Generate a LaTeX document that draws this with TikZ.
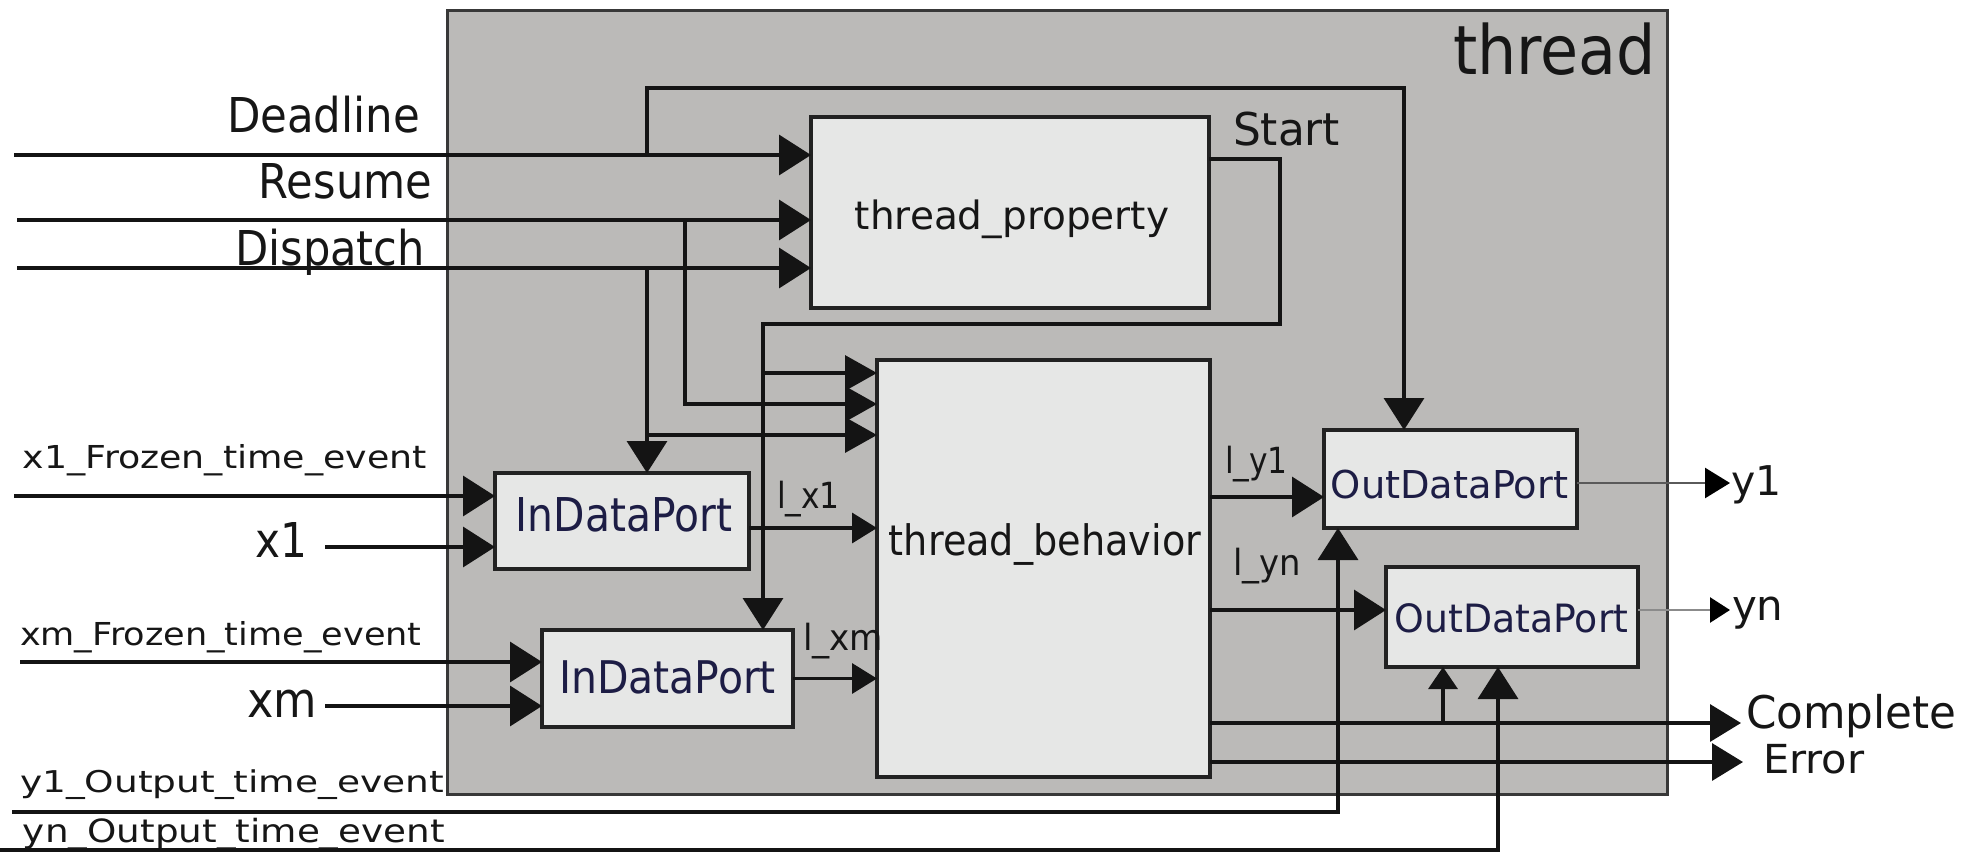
\documentclass[tikz,border=0pt]{standalone}
\usepackage{fontspec}
\setmainfont{DejaVu Sans}
\usetikzlibrary{arrows.meta}

\definecolor{threadfill}{HTML}{BBBAB8}
\definecolor{boxfill}{HTML}{E6E7E6}
\definecolor{boxline}{HTML}{222222}
\definecolor{linec}{HTML}{141414}
\definecolor{txtc}{HTML}{161616}
\definecolor{porttxt}{HTML}{1D1D45}
\definecolor{outgray}{HTML}{5A5A5A}

% horizontal squeeze/stretch of a label
\newcommand{\wtext}[2]{\scalebox{#1}[1]{#2}}

\tikzset{
  conn/.style={draw=linec, line width=1.7pt},
  bigtip/.style={-{Triangle[length=16pt,width=20pt]}},
  midtip/.style={-{Triangle[length=16pt,width=17.5pt]}},
  smalltip/.style={-{Triangle[length=12.5pt,width=15pt]}},
  tinytip/.style={-{Triangle[length=11pt,width=14.5pt]}},
  sigtip/.style={-{Triangle[length=15.5pt,width=18.5pt]}},
  outline/.style={draw=outgray, line width=1.3pt},
  box/.style={draw=boxline, fill=boxfill, line width=2pt, inner sep=0pt, outer sep=0pt},
  outer/.style={draw=boxline!90, fill=threadfill, line width=1.5pt, inner sep=0pt, outer sep=0pt},
  lbl/.style={inner sep=0pt, outer sep=0pt, text=txtc},
  plbl/.style={inner sep=0pt, outer sep=0pt, text=porttxt},
  fsz/.style={font=\fontsize{#1}{#1}\selectfont}
}

\begin{document}
\begin{tikzpicture}[x=0.5pt,y=-0.5pt]
\useasboundingbox (0,0) rectangle (1977,853);

% enclosing thread block
\node[outer, minimum width=610pt, minimum height=392pt] (thread) at (1057,402) {};
\node[lbl, fsz=34pt, anchor=base east] (threadlbl) at (1656,74) {\wtext{0.91}{thread}};

% centres of the inner blocks
\path
  (1010,212.5) coordinate (tpropc)
  (1043.5,568.5) coordinate (tbehc)
  (622,521) coordinate (in1c)
  (667.5,678.5) coordinate (inmc)
  (1450.5,479) coordinate (out1c)
  (1512,617) coordinate (outnc);

\node[box, minimum width=199pt, minimum height=95.5pt] (tprop) at (tpropc) {};
\node[box, minimum width=166.5pt, minimum height=208.5pt] (tbeh) at (tbehc) {};
\node[box, minimum width=127pt, minimum height=48pt] (in1) at (in1c) {};
\node[box, minimum width=125.5pt, minimum height=48.5pt] (inm) at (inmc) {};
\node[box, minimum width=126.5pt, minimum height=49pt] (out1) at (out1c) {};
\node[box, minimum width=126pt, minimum height=50pt] (outn) at (outnc) {};

% free ends and bends of the wires
\coordinate (dlS) at (14,155);
\coordinate (dlB) at (647,155);
\coordinate (dlT) at (1404,88);
\coordinate (rsS) at (17,220);
\coordinate (rsB) at (685,220);
\coordinate (rsK) at (685,404);
\coordinate (dpS) at (17,268);
\coordinate (dpB) at (647,268);
\coordinate (dpK) at (647,435);
\coordinate (stA) at (1280,159);
\coordinate (stC) at (763,324);
\coordinate (stK) at (763,373);
\coordinate (xf1S) at (14,496);
\coordinate (x1S) at (325,547);
\coordinate (xfmS) at (20,662);
\coordinate (xmS) at (325,706);
\coordinate (lx1) at (749,528);
\coordinate (ly1) at (1210,497);
\coordinate (lyn) at (1210,610);
\coordinate (y1E) at (1730,483);
\coordinate (ynE) at (1730,610);
\coordinate (cpE) at (1741,723);
\coordinate (cpB) at (1443,723);
\coordinate (erE) at (1743,762);
\coordinate (yo1S) at (12,812);
\coordinate (yo1K) at (1338,812);
\coordinate (yonS) at (0,850);
\coordinate (yonK) at (1498,850);

% Deadline, Resume, Dispatch into thread_property
\draw[conn, bigtip] (dlS) -- (dlS -| tprop.west);
\draw[conn, bigtip] (rsS) -- (rsS -| tprop.west);
\draw[conn, bigtip] (dpS) -- (dpS -| tprop.west);

% branches of the event inputs
\draw[conn, bigtip] (dlB) |- (dlT) -- (dlT |- out1.north);
\draw[conn, midtip] (rsB) -- (rsK) -- (rsK -| tbeh.west);
\draw[conn, bigtip] (dpB) -- (dpB |- in1.north);
\draw[conn, midtip] (dpK) -- (dpK -| tbeh.west);

% Start output of thread_property
\draw[conn, bigtip] (stA -| tprop.east) -- (stA) |- (stC) -- (stC |- inm.north);
\draw[conn, midtip] (stK) -- (stK -| tbeh.west);

% data inputs
\draw[conn, bigtip] (xf1S) -- (xf1S -| in1.west);
\draw[conn, bigtip] (x1S) -- (x1S -| in1.west);
\draw[conn, bigtip] (xfmS) -- (xfmS -| inm.west);
\draw[conn, bigtip] (xmS) -- (xmS -| inm.west);

% local variables into and out of thread_behavior
\draw[conn, smalltip] (lx1) -- (lx1 -| tbeh.west);
\draw[conn, smalltip] (inm.east) -- (inm.east -| tbeh.west);
\draw[conn, bigtip] (ly1) -- (ly1 -| out1.west);
\draw[conn, bigtip] (lyn) -- (lyn -| outn.west);

% data outputs
\draw[outline, -{Triangle[length=12.5pt,width=15pt,color=black]}] (y1E -| out1.east) -- (y1E);
\draw[outline, draw=outgray!70, -{Triangle[length=10pt,width=12.5pt,color=black]}] (ynE -| outn.east) -- (ynE);

% Complete and Error
\draw[conn, sigtip] (cpE -| tbeh.east) -- (cpE);
\draw[conn, tinytip] (cpB) -- (cpB |- outn.south);
\draw[conn, sigtip] (erE -| tbeh.east) -- (erE);

% output time events
\draw[conn, bigtip] (yo1S) -- (yo1K) -- (yo1K |- out1.south);
\draw[conn, bigtip] (yonS) -- (yonK) -- (yonK |- outn.south);

% block labels
\node[lbl, fsz=19.5pt, anchor=base] (tproplbl) at (1012,229) {thread\_property};
\node[lbl, fsz=21pt, anchor=base] (tbehlbl) at (1045,555) {\wtext{0.91}{thread\_behavior}};
\node[plbl, fsz=23.3pt, anchor=base] (in1lbl) at (624,531) {\wtext{0.876}{InDataPort}};
\node[plbl, fsz=22.5pt, anchor=base] (inmlbl) at (667.5,693) {\wtext{0.91}{InDataPort}};
\node[plbl, fsz=19.2pt, anchor=base] (out1lbl) at (1449.5,498) {OutDataPort};
\node[plbl, fsz=19.5pt, anchor=base] (outnlbl) at (1511.5,632) {\wtext{0.97}{OutDataPort}};

% signal labels
\node[lbl, fsz=24pt, anchor=base east] (deadline) at (420,132) {\wtext{0.906}{Deadline}};
\node[lbl, fsz=24pt, anchor=base east] (resume) at (432,198) {\wtext{0.9}{Resume}};
\node[lbl, fsz=24pt, anchor=base east] (dispatch) at (425,265) {\wtext{0.9}{Dispatch}};
\node[lbl, fsz=22.6pt, anchor=base west] (start) at (1233,145) {\wtext{0.97}{Start}};
\node[lbl, fsz=15.8pt, anchor=base west] (xf1lbl) at (23,468) {\wtext{1.15}{x1\_Frozen\_time\_event}};
\node[lbl, fsz=15.8pt, anchor=base west] (xfmlbl) at (20,645) {\wtext{1.11}{xm\_Frozen\_time\_event}};
\node[lbl, fsz=15pt, anchor=base west] (yo1lbl) at (20,792) {\wtext{1.25}{y1\_Output\_time\_event}};
\node[lbl, fsz=16pt, anchor=base west] (yonlbl) at (23,842) {\wtext{1.166}{yn\_Output\_time\_event}};
\node[lbl, fsz=24pt, anchor=base east] (x1lbl) at (307,557) {\wtext{0.88}{x1}};
\node[lbl, fsz=24.5pt, anchor=base east] (xmlbl) at (317,717) {\wtext{0.91}{xm}};
\node[lbl, fsz=18pt, anchor=base west] (lx1lbl) at (777,508) {\wtext{0.87}{l\_x1}};
\node[lbl, fsz=18pt, anchor=base west] (lxmlbl) at (803,650) {\wtext{0.95}{l\_xm}};
\node[lbl, fsz=18pt, anchor=base west] (ly1lbl) at (1225,473) {\wtext{0.87}{l\_y1}};
\node[lbl, fsz=18pt, anchor=base west] (lynlbl) at (1233,575) {\wtext{0.94}{l\_yn}};
\node[lbl, fsz=20.5pt, anchor=base west] (y1lbl) at (1731,495) {y1};
\node[lbl, fsz=21pt, anchor=base west] (ynlbl) at (1732,620) {yn};
\node[lbl, fsz=22.5pt, anchor=base west] (cplbl) at (1746,728) {\wtext{0.97}{Complete}};
\node[lbl, fsz=20pt, anchor=base west] (erlbl) at (1763,773) {\wtext{1.04}{Error}};
\end{tikzpicture}
\end{document}
